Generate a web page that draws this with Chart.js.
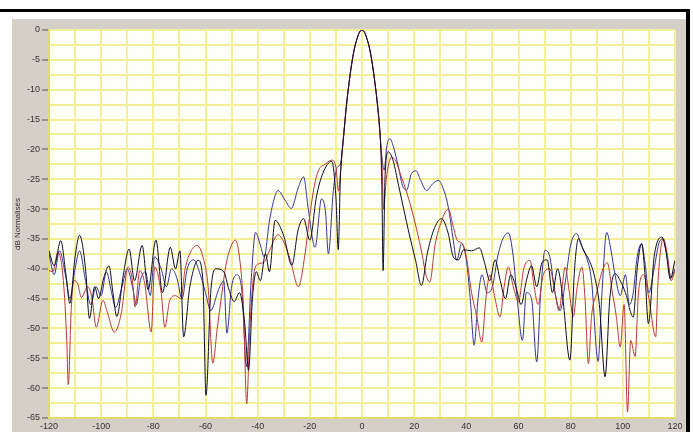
<!DOCTYPE html>
<html>
<head>
<meta charset="utf-8">
<script src="https://cdn.jsdelivr.net/npm/chart.js@4"></script>
<style>
  body { margin: 0; background: #fff; }
  canvas { display: block; }
</style>
</head>
<body>
<canvas id="diagramme" width="693" height="432"></canvas>
<script>
// angles (deg) and levels (dB)
const noirAngles = [-120,-118,-115.5,-113.5,-112,-110,-108.3,-106,-104.5,-102.5,-101,-99,-97,-95.5,-94,-91.5,-89.3,-87.2,-84.3,-82,-79,-76.5,-73.5,-71.5,-69.8,-68.4,-66,-62.8,-61,-59.8,-58,-56,-53,-51,-49,-47,-45,-43.5,-42,-40.5,-39,-37,-35.5,-33.3,-30,-26.9,-24.5,-22.4,-20,-17.5,-15,-11.6,-10,-9.1,-8.3,-7,-6,-5,-4,-3,-2,-1,0,1,2,3,4,5,6,7,7.6,8.1,8.8,10.1,12,14,16,18,20.5,22.8,25,27.5,30.5,33,35,37,39,42,45,47,49,51,53,55,57,59,61,63,65,67,69,71,73,75,77,79.7,81.5,83,85,87,89,91,93.2,95,97,99,101,104,105.5,107.2,108.5,109.8,112,115,116.5,118.2,120];
const noirDb = [-37,-39.5,-35.3,-41,-45.8,-38,-34.4,-40,-48.3,-43,-45,-41.5,-39.5,-44,-48,-41,-36.7,-42,-36.1,-43.5,-35.2,-44,-36.4,-40,-37,-51.4,-43,-38.6,-42,-61.2,-44,-40,-40.5,-43.5,-45.5,-44,-49,-57,-45,-40.5,-42,-37.5,-40.5,-31.9,-34.5,-39.4,-33.5,-31.6,-35.2,-28,-24,-22,-28,-36.8,-25,-17.5,-12.8,-9,-5.8,-3.3,-1.6,-0.4,0,-0.4,-1.6,-3.3,-5.8,-9,-12.8,-18,-26,-40.3,-25,-20.4,-22,-26,-30,-34,-38.5,-42.8,-37.5,-33.5,-31.6,-34,-38,-38.5,-36.8,-37,-36.5,-39,-42,-38.5,-42,-45,-41,-43,-46,-42,-39.5,-43,-39,-38.5,-44,-40,-45,-55.3,-40,-35,-37,-38.5,-41,-46,-58.1,-45,-40.8,-42,-44,-48.1,-40,-35.8,-41,-49.2,-38,-34.7,-37,-41.7,-38.6];

const bleuAngles = [-120,-118,-116,-113.5,-112,-110,-108.3,-106,-104,-102,-100,-98,-96,-94.5,-92,-90,-88,-86.5,-85,-83,-81.2,-79.5,-77,-75,-73,-71,-69,-67,-64.5,-62,-60,-58,-55,-53,-51.8,-50,-48,-46,-44.3,-42.5,-40.8,-39,-37.5,-35.5,-33.5,-32.2,-29.5,-27.1,-24.5,-22.4,-20.6,-18,-15.5,-14,-12.9,-11,-9.5,-8.3,-7,-6,-5,-4,-3,-2,-1,0,1,2,3,4,5,6,7,7.8,8.5,9.5,10.7,12,14,15.5,17.1,19,20.8,22.2,24.8,27,29.3,31.5,33.1,35,36.3,38.2,40,41.5,43,44.5,46,48,50,52,54,56.1,58,59.5,61.5,63,65,67,68.5,70.2,72,74,76,78,80,82.3,84,86,88,90.5,92,93.8,95.5,97,99,101,102.5,104,105.5,107.2,108.5,110,112,114,115.5,117,118.5,120];
const bleuDb = [-37.5,-41,-37,-41.5,-45,-40,-37,-42,-46,-43,-44.5,-40.5,-44,-46.5,-43,-40,-43,-46,-42,-40.5,-44.5,-38,-40,-43,-40,-41.5,-45,-40,-38.5,-41,-44,-47,-43.5,-42,-50.8,-43,-41,-44,-56.4,-42,-33.9,-36,-38,-32,-28,-26.9,-28.5,-29.9,-26.5,-24.6,-30,-36.4,-28.3,-30.5,-37.5,-27,-23,-22.5,-17.5,-12.8,-9,-5.8,-3.3,-1.6,-0.4,0,-0.4,-1.6,-3.3,-5.8,-9,-12.8,-18,-22,-23.5,-19.5,-18.2,-19.5,-23,-26,-26.8,-24,-23.6,-24.9,-26.9,-25.8,-25.2,-27,-29.7,-35.2,-38.6,-35.8,-38.5,-45,-52.8,-45,-41,-44,-43,-38,-35,-34,-38,-45,-52,-44,-45,-55.6,-44,-36.9,-38,-44,-47,-42,-36,-34.1,-36,-38,-42,-55.5,-44,-33.9,-37,-41,-44.5,-41,-46,-44,-38,-35.8,-39,-44,-40,-35.5,-35,-38,-41.5,-40];

const rougeAngles = [-120,-118.5,-116.6,-114.5,-113.2,-112.6,-111.5,-110.5,-109,-107.6,-105.1,-103.5,-101.9,-99.3,-97.5,-95,-92.3,-89.7,-88,-87,-85.2,-83.3,-80.8,-79.5,-77,-75.6,-73.7,-71.5,-69.5,-67.8,-65.5,-63.2,-61,-59,-57.2,-55.5,-54,-52,-50,-48.6,-47,-45.5,-44.2,-43,-41.5,-39.8,-37.5,-35.5,-32.2,-30,-27.5,-24.4,-22,-20,-18,-16,-14.8,-11.6,-10,-9,-8.3,-7,-6,-5,-4,-3,-2,-1,0,1,2,3,4,5,6,7,7.7,8.3,9.3,11.3,13,15,17,19,21,23,24.5,26,28,30.5,33.1,35,36.5,38.5,40,42,44,45.9,47.5,49,51,52.9,54.5,56.1,58,60,62,64.4,66,67.5,69.5,72,74,75.5,77.9,79.5,81,82.5,84.3,85.5,86.8,88,90,92,94,96,97.5,99,100.5,101.8,103,104.7,106,108,110,112.6,113.5,115.5,117,118.5,120];
const rougeDb = [-40.3,-40.5,-37.2,-42,-52,-59.4,-47,-42,-42.5,-44.8,-43,-45,-49.8,-45.3,-47.5,-50.6,-47.5,-39.7,-42,-46.4,-40.3,-42.5,-50.6,-39.7,-44,-49.8,-45.3,-44.5,-45,-40,-37,-36.1,-38,-43,-55.8,-50,-45,-39,-36,-35.2,-38,-46,-62.6,-50,-41,-39.2,-38.9,-37,-34.3,-35.5,-38.5,-43,-38,-31,-25.5,-23,-22.7,-21.8,-23,-27,-24,-17.5,-12.8,-9,-5.8,-3.3,-1.6,-0.4,0,-0.4,-1.6,-3.3,-5.8,-9,-12.8,-18,-23,-30,-25,-21.3,-22,-24.5,-27,-30,-33.5,-37.5,-41,-42.2,-36,-32,-30,-33,-35.2,-35.8,-38,-44,-48,-52.3,-45,-41,-45,-48.1,-43,-39.7,-43,-45.5,-40,-38.6,-43,-46,-41,-40,-44,-47,-39.7,-44,-48,-43,-39.7,-45,-55.9,-48,-44,-40.5,-39,-44,-48,-53.1,-46,-64,-52,-54.7,-44,-41,-45,-51.4,-42,-35,-37.5,-42,-40.3];

const yTicks = { min: -65, max: 0, step: 2.5, labelEvery: 5 };
const xTicks = { min: -120, max: 120, step: 10, labelEvery: 20 };

const points = (angles, db) => angles.map((a, i) => ({ x: a, y: db[i] }));

// grey panel, black frame and pale plot background
const fond = {
  id: "fond",
  beforeDraw(chart) {
    const { ctx, chartArea: a } = chart;
    ctx.save();
    ctx.fillStyle = "#ffffff";
    ctx.fillRect(0, 0, chart.width, chart.height);
    ctx.fillStyle = "#d4d0c8";
    ctx.fillRect(12, 19, 674, chart.height - 19);
    ctx.fillStyle = "#fffffa";
    ctx.fillRect(a.left, a.top, a.right - a.left, a.bottom - a.top);
    ctx.fillStyle = "#000000";
    ctx.fillRect(0, 9, 690, 3);
    ctx.fillRect(686, 9, 4, chart.height - 9);
    ctx.restore();
  }
};

const serie = (label, angles, db, color) => ({
  label,
  data: points(angles, db),
  borderColor: color,
  borderWidth: 1,
  pointRadius: 0,
  cubicInterpolationMode: "monotone",
  fill: false
});

new Chart(document.getElementById("diagramme"), {
  type: "line",
  data: {
    datasets: [
      serie("Mesure 1", noirAngles, noirDb, "#0a0a28"),
      serie("Mesure 2", rougeAngles, rougeDb, "#b8383a"),
      serie("Mesure 3", bleuAngles, bleuDb, "#34349a")
    ]
  },
  options: {
    responsive: false,
    animation: false,
    layout: { padding: { top: 30, right: 18, left: 0, bottom: 0 } },
    plugins: { legend: { display: false }, tooltip: { enabled: false } },
    scales: {
      x: {
        type: "linear",
        min: xTicks.min,
        max: xTicks.max,
        afterFit: (s) => { s.height = 14; },
        border: { color: "#e2dc6a", width: 2 },
        grid: { color: "#f4f09a", lineWidth: 2, drawTicks: false },
        ticks: {
          stepSize: xTicks.step,
          autoSkip: false,
          maxRotation: 0,
          padding: 3,
          color: "#333333",
          font: { family: "Liberation Sans, Arial", size: 9 },
          callback: (v) => (v % xTicks.labelEvery === 0 ? String(v) : "")
        }
      },
      y: {
        min: yTicks.min,
        max: yTicks.max,
        afterFit: (s) => { s.width = 49; },
        border: { color: "#e2dc6a", width: 2 },
        grid: {
          color: "#f4f09a",
          lineWidth: 2,
          tickLength: 7,
          tickColor: (c) => (c.tick && c.tick.value % yTicks.labelEvery === 0 ? "#555555" : "rgba(0,0,0,0)"),
          tickWidth: 1
        },
        ticks: {
          stepSize: yTicks.step,
          autoSkip: false,
          padding: 2,
          color: "#333333",
          font: { family: "Liberation Sans, Arial", size: 9 },
          callback: (v) => (v % yTicks.labelEvery === 0 ? String(v) : "")
        },
        title: {
          display: true,
          text: "dB Normalisés",
          color: "#333333",
          font: { family: "Liberation Sans, Arial", size: 8 },
          padding: { top: 13, bottom: 0 }
        }
      }
    }
  },
  plugins: [fond]
});
</script>
</body>
</html>
